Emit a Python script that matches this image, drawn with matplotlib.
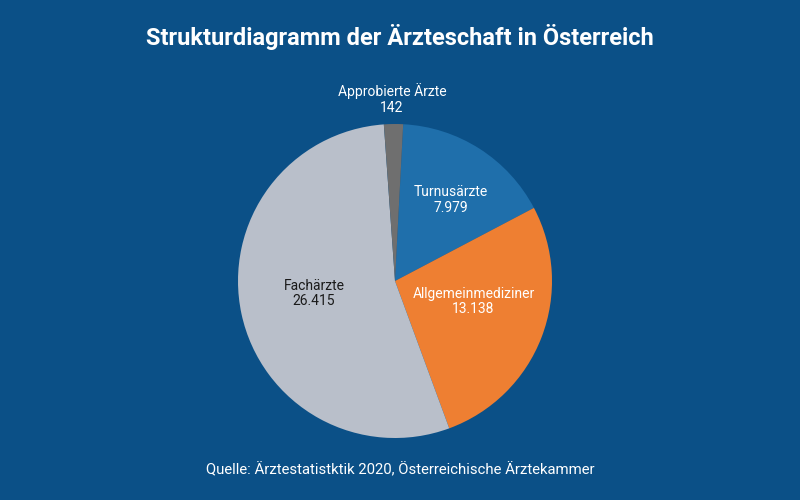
import numpy as np
import matplotlib.pyplot as plt

plt.rcParams['font.family'] = ['Roboto', 'DejaVu Sans']

labels = ["Turnusärzte", "Allgemeinmediziner", "Fachärzte", "Approbierte Ärzte"]
values = [7979, 13138, 26415, 142]
value_text = ["7.979", "13.138", "26.415", "142"]
colors = ["#1f6fab", "#ee7f32", "#b9bfca", "#6f6f6f"]
text_colors = ["white", "white", "#1a1a1a", "white"]
# label centres, in pie radii
label_pos = [(0.357, 0.516), (0.50, -0.13), (-0.516, -0.08), (-0.02, 1.16)]

bg = "#0b5087"

# tiny slices get a minimum visible size, like the original
total = sum(values)
sizes = np.maximum(values, 0.02 * total)

fig = plt.figure(figsize=(8, 5), dpi=100, facecolor=bg)
r_px = 157
cx, cy = 395, 500 - 281
ax = fig.add_axes([(cx - r_px) / 800, (cy - r_px) / 500, 2 * r_px / 800, 2 * r_px / 500])
ax.set_facecolor(bg)

wedges, _ = ax.pie(sizes, colors=colors, startangle=87, counterclock=False,
                   radius=1, wedgeprops=dict(linewidth=0))
ax.set_xlim(-1, 1)
ax.set_ylim(-1, 1)
ax.set_aspect('equal')
ax.axis('off')

for lab, vt, tc, (x, y) in zip(labels, value_text, text_colors, label_pos):
    ax.text(x, y, lab + "\n" + vt, ha='center', va='center', color=tc,
            fontsize=10, linespacing=1.15)

fig.text(0.5, 1 - 37 / 500, "Strukturdiagramm der Ärzteschaft in Österreich",
         ha='center', va='center', color='white', fontsize=17, fontweight='bold')
fig.text(0.5, 1 - 470 / 500, "Quelle: Ärztestatistktik 2020, Österreichische Ärztekammer",
         ha='center', va='center', color='white', fontsize=10.7)

fig.savefig("out.png", dpi=100, facecolor=bg)
